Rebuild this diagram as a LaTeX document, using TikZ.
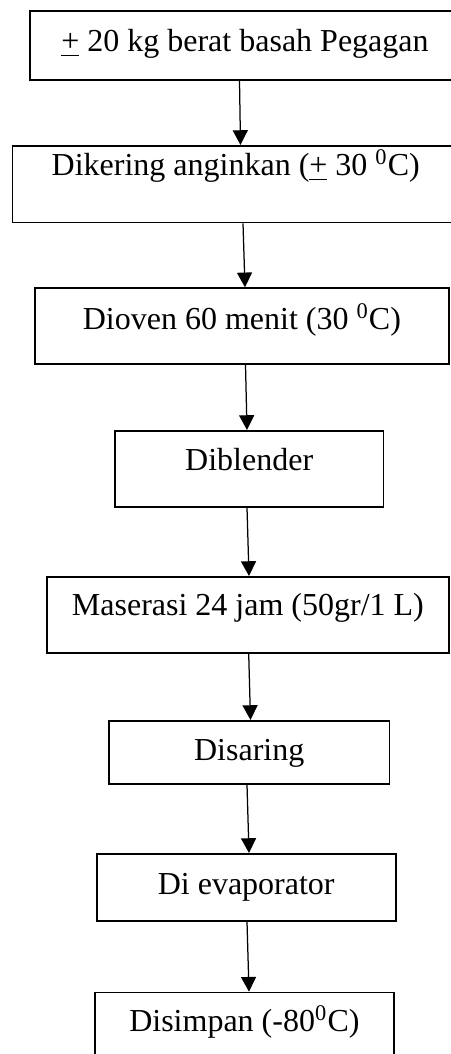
\documentclass[tikz,border=0pt]{standalone}
\usepackage{fontspec}
\setmainfont{Liberation Serif}
\usetikzlibrary{arrows.meta}

\begin{document}
\begin{tikzpicture}[x=0.4pt, y=-0.4pt,
		stepbox/.style = {
			draw, line width=0.65pt, anchor=north, inner sep=0pt,
			text height=16pt, font=\fontsize{12.8}{15.4}\selectfont
		},
		flow/.style = {
			-{Triangle[length=5.9pt,width=6pt]}, line width=0.5pt
		}]
	\useasboundingbox (0,0) rectangle (451,1054);
	\clip (0,0) rectangle (451,1054);
	\node (b1) [stepbox, text height=16.4pt, text depth=11.2pt,
	minimum width=171.8pt] at (245,10) {\underline{+} 20 kg berat basah Pegagan};
	\node (b2) [stepbox, text height=12pt, text depth=18.7pt,
	minimum width=178.5pt] at (235.8,145) {Dikering anginkan (\underline{+} 30 \textsuperscript{0}C)};
	\node (b3) [stepbox, text height=16.4pt, text depth=13.9pt,
	minimum width=165.7pt] at (241.9,287.3) {Dioven 60 menit (30 \textsuperscript{0}C)};
	\node (b4) [stepbox, text depth=14.4pt,
	minimum width=107.3pt] at (249.2,430) {Diblender};
	\node (b5) [stepbox, text height=15.6pt, text depth=14.8pt,
	minimum width=160.9pt] at (247.9,576) {Maserasi 24 jam (50gr/1 L)};
	\node (b6) [stepbox, text depth=9.2pt,
	minimum width=112.1pt] at (249.2,720) {Disaring};
	\node (b7) [stepbox, text height=16.4pt, text depth=10.4pt,
	minimum width=119.6pt] at (246.2,853) {Di evaporator};
	\node (b8) [stepbox, text height=15.6pt, text depth=11.6pt,
	minimum width=119.5pt] at (244.4,991.7) {Disimpan (-80\textsuperscript{0}C)};
	\path [flow]
	(b1.south -| 239.5,0) edge (b2.north -| 240.5,0)
	(b2.south -| 243,0) edge (b3.north -| 245,0)
	(b3.south -| 245.5,0) edge (b4.north -| 247,0)
	(b4.south -| 247,0) edge (b5.north -| 249,0)
	(b5.south -| 248.7,0) edge (b6.north -| 250.5,0)
	(b6.south -| 247,0) edge (b7.north -| 249,0)
	(b7.south -| 247,0) edge (b8.north -| 249,0);
\end{tikzpicture}
\end{document}
